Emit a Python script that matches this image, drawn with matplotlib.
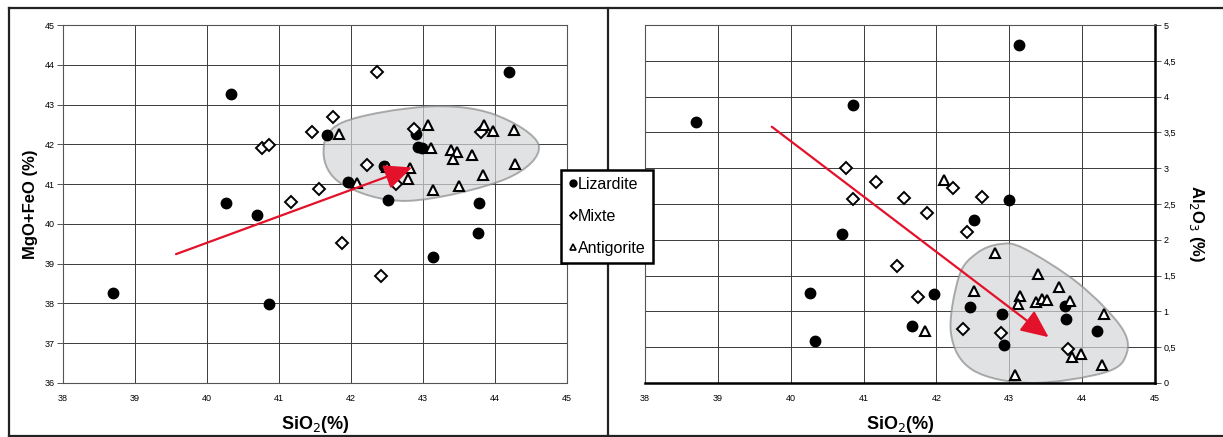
import numpy as np
import matplotlib
matplotlib.use('Agg')
import matplotlib.pyplot as plt
from matplotlib.path import Path
from matplotlib.patches import PathPatch
from matplotlib.lines import Line2D
from matplotlib.ticker import FuncFormatter

plt.rcParams['font.family'] = ['Liberation Sans', 'DejaVu Sans']

# Lizardite (same samples in both plots)
liz_si = [38.70, 40.26, 40.34, 40.70, 40.86, 41.67, 41.96, 42.46, 42.52, 42.90, 42.93, 42.99, 43.14, 43.77, 43.78, 44.20]
liz_mgo = [38.26, 40.53, 43.27, 40.23, 37.98, 42.24, 41.05, 41.46, 40.61, 42.26, 41.94, 41.92, 39.16, 39.76, 40.53, 43.81]
liz_al = [3.65, 1.26, 0.58, 2.08, 3.89, 0.79, 1.25, 1.06, 2.28, 0.96, 0.53, 2.56, 4.72, 1.08, 0.89, 0.72]

# Mixte
mix_si = [40.76, 40.86, 41.17, 41.46, 41.55, 41.75, 41.87, 42.23, 42.36, 42.42, 42.63, 42.88, 43.81]
mix_mgo = [41.91, 41.99, 40.55, 42.31, 40.88, 42.70, 39.51, 41.49, 43.82, 38.70, 41.00, 42.38, 42.31]
mix_al = [3.00, 2.57, 2.81, 1.63, 2.59, 1.20, 2.38, 2.73, 0.75, 2.11, 2.60, 0.70, 0.47]

# Antigorite (left plot)
ant_si_l = [41.83, 42.09, 42.50, 42.82, 42.80, 43.07, 43.11, 43.14, 43.39, 43.48, 43.42, 43.68, 43.50, 43.85, 43.98, 43.83, 44.27, 44.28]
ant_mgo = [42.26, 41.02, 41.42, 41.40, 41.12, 42.49, 41.92, 40.85, 41.86, 41.80, 41.62, 41.73, 40.95, 42.50, 42.34, 41.22, 42.36, 41.50]
# Antigorite (right plot)
ant_si_r = [42.10, 42.80, 43.40, 43.68, 42.51, 43.15, 43.12, 43.37, 43.45, 43.52, 43.84, 44.30, 41.84, 43.99, 43.86, 44.27, 43.08]
ant_al = [2.84, 1.81, 1.52, 1.34, 1.29, 1.22, 1.10, 1.13, 1.17, 1.16, 1.14, 0.96, 0.72, 0.41, 0.36, 0.25, 0.11]

# outline of the grey zones
zone_l_x = [41.62, 41.88, 43.06, 43.98, 44.61, 44.15, 42.79, 41.88]
zone_l_y = [41.80, 42.55, 42.95, 42.76, 41.97, 41.13, 40.58, 41.00]
zone_r_x = [42.87, 43.20, 43.95, 44.53, 44.61, 44.32, 43.30, 42.50, 42.20, 42.31, 42.55]
zone_r_y = [1.94, 1.88, 1.39, 0.79, 0.41, 0.15, 0.00, 0.18, 0.69, 1.49, 1.81]

# arrows (start, end)
arrow_l = ((39.57, 39.24), (42.85, 41.42))
arrow_r = ((39.74, 3.58), (43.54, 0.64))

red = '#e4112a'


def zone(xs, ys):
    # closed smooth curve through the outline points
    pts = np.column_stack([xs, ys])
    n = len(pts)
    verts = [pts[0]]
    codes = [Path.MOVETO]
    for i in range(n):
        p0, p1, p2, p3 = pts[i - 1], pts[i], pts[(i + 1) % n], pts[(i + 2) % n]
        verts += [p1 + (p2 - p0) / 6, p2 - (p3 - p1) / 6, p2]
        codes += [Path.CURVE4] * 3
    return PathPatch(Path(verts, codes), facecolor='#d4d6d8', edgecolor='#8a8a8a',
                     lw=1.4, alpha=0.7, zorder=2)


def draw_points(ax, lx, ly, mx, my, ax_, ay):
    ax.plot(lx, ly, 'o', color='black', ms=7.5, zorder=4)
    ax.plot(mx, my, 'D', mfc='white', mec='black', mew=1.4, ms=6, zorder=4)
    ax.plot(ax_, ay, '^', mfc='white', mec='black', mew=1.5, ms=7.5, zorder=4)


fig = plt.figure(figsize=(12.23, 4.37), dpi=100)
ax1 = fig.add_axes([0.0515, 0.1236, 0.412, 0.819])
ax2 = fig.add_axes([0.5274, 0.1236, 0.417, 0.819])

arrow_style = dict(arrowstyle='-|>,head_length=1.0,head_width=0.45', color=red,
                   lw=1.6, mutation_scale=17, shrinkA=0, shrinkB=0)

# left: MgO+FeO vs SiO2
ax1.add_patch(zone(zone_l_x, zone_l_y))
draw_points(ax1, liz_si, liz_mgo, mix_si, mix_mgo, ant_si_l, ant_mgo)
ax1.annotate('', xy=arrow_l[1], xytext=arrow_l[0], arrowprops=arrow_style, zorder=5)
ax1.set_xlim(38, 45)
ax1.set_ylim(36, 45)
ax1.set_xticks(range(38, 46))
ax1.set_yticks(range(36, 46))
ax1.set_xlabel('SiO$_2$(%)', fontsize=13, fontweight='bold')
ax1.set_ylabel('MgO+FeO (%)', fontsize=12, fontweight='bold')
ax1.xaxis.set_label_coords(0.5, -0.087)
ax1.yaxis.set_label_coords(-0.05, 0.5)
for s in ax1.spines.values():
    s.set_color('#555555')
    s.set_linewidth(0.8)

# right: Al2O3 vs SiO2
ax2.add_patch(zone(zone_r_x, zone_r_y))
draw_points(ax2, liz_si, liz_al, mix_si, mix_al, ant_si_r, ant_al)
ax2.annotate('', xy=arrow_r[1], xytext=arrow_r[0], arrowprops=arrow_style, zorder=5)
ax2.set_xlim(38, 45)
ax2.set_ylim(0, 5)
ax2.set_xticks(range(38, 46))
ax2.set_yticks(np.arange(0, 5.01, 0.5))
ax2.yaxis.set_major_formatter(FuncFormatter(lambda v, p: ('%g' % v).replace('.', ',')))
ax2.yaxis.tick_right()
ax2.yaxis.set_label_position('right')
ax2.set_xlabel('SiO$_2$(%)', fontsize=13, fontweight='bold')
ax2.set_ylabel('Al$_2$O$_3$ (%)', fontsize=12, fontweight='bold', rotation=270)
ax2.xaxis.set_label_coords(0.5, -0.087)
ax2.yaxis.set_label_coords(1.1, 0.444)
for name, s in ax2.spines.items():
    s.set_color('#555555')
    s.set_linewidth(0.8)
ax2.spines['right'].set_color('black')
ax2.spines['right'].set_linewidth(1.8)
ax2.spines['bottom'].set_color('black')
ax2.spines['bottom'].set_linewidth(1.8)

for ax in (ax1, ax2):
    ax.grid(True, color='#3a3a3a', lw=0.7)
    ax.set_axisbelow(True)
    ax.tick_params(axis='x', length=0, pad=8, labelsize=6.5)
    ax.tick_params(axis='y', length=4, width=0.7, color='#555555', pad=2, labelsize=6.5)

# frame lines around the panels
for xs, ys in [((0.0074, 0.0074), (0.0034, 0.9817)),
               ((0.0074, 1.0), (0.9817, 0.9817)),
               ((0.0074, 1.0), (0.0034, 0.0034)),
               ((0.4971, 0.4971), (0.0034, 0.9817))]:
    fig.add_artist(Line2D(xs, ys, transform=fig.transFigure, color='#222222', lw=1.6))

handles = [Line2D([], [], ls='', marker='o', color='black', ms=5),
           Line2D([], [], ls='', marker='D', mfc='white', mec='black', mew=1.2, ms=3.5),
           Line2D([], [], ls='', marker='^', mfc='white', mec='black', mew=1.2, ms=5)]
leg = fig.legend(handles, ['Lizardite', 'Mixte', 'Antigorite'], loc='center',
                 bbox_to_anchor=(0.4965, 0.505), fontsize=11.5, frameon=True, fancybox=False,
                 handlelength=0.5, handletextpad=0.1, labelspacing=1.05,
                 borderpad=0.45, borderaxespad=0)
leg.get_frame().set_edgecolor('black')
leg.get_frame().set_linewidth(1.8)
leg.get_frame().set_alpha(1)
leg.set_zorder(10)

plt.savefig('out.png', dpi=100)
